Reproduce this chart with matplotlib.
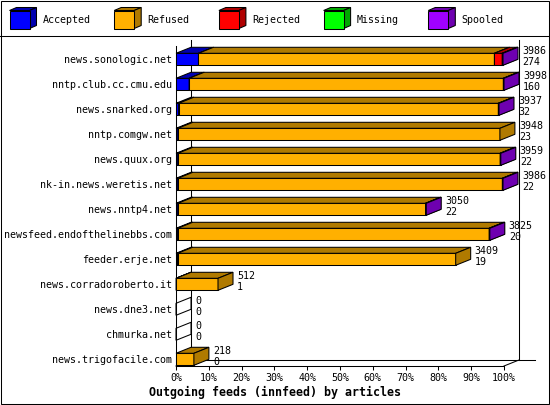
import matplotlib
matplotlib.use('Agg')
import matplotlib.pyplot as plt
from matplotlib.patches import Polygon, Rectangle
from matplotlib.lines import Line2D

# data
hosts = ['news.sonologic.net', 'nntp.club.cc.cmu.edu', 'news.snarked.org',
         'nntp.comgw.net', 'news.quux.org', 'nk-in.news.weretis.net',
         'news.nntp4.net', 'newsfeed.endofthelinebbs.com', 'feeder.erje.net',
         'news.corradoroberto.it', 'news.dne3.net', 'chmurka.net',
         'news.trigofacile.com']
offered = [3986, 3998, 3937, 3948, 3959, 3986, 3050, 3825, 3409, 512, 0, 0, 218]
accepted = [274, 160, 32, 23, 22, 22, 22, 20, 19, 1, 0, 0, 0]
refused = [3607, 3830, 3897, 3925, 3929, 3956, 3020, 3797, 3390, 511, 0, 0, 218]
rejected = [95, 0, 0, 0, 0, 0, 0, 0, 0, 0, 0, 0, 0]
missing = [0, 0, 0, 0, 0, 0, 0, 0, 0, 0, 0, 0, 0]
spooled = [10, 8, 8, 0, 8, 8, 8, 8, 0, 0, 0, 0, 0]

series_names = ['Accepted', 'Refused', 'Rejected', 'Missing', 'Spooled']
series = [accepted, refused, rejected, missing, spooled]
colors = ['#0000ff', '#ffb000', '#ff0000', '#00ff00', '#a000ff']
dark = ['#0000b0', '#b07a00', '#b00000', '#00a800', '#6e00b0']
ticks = list(range(0, 101, 10))

W, H = 550, 405
mono = 'DejaVu Sans Mono'
fs = 7.2
lw = 0.75

fig = plt.figure(figsize=(W / 100, H / 100), dpi=100)
fig.patch.set_facecolor('white')

# main plot area (front plane), pixel layout of the original
left, right, top, bottom = 176, 504, 46, 366
ax = fig.add_axes([left / W, 1 - bottom / H, (right - left) / W, (bottom - top) / H])
xpx = (right - left) / 100.0      # pixels per percent
ypx = 25.0                         # pixels per row
row0 = 59.3                        # pixel centre of first row
ax.set_xlim(0, 100)
ax.set_ylim((bottom - row0) / ypx, (top - row0) / ypx)
ax.patch.set_alpha(0)

dx = 15 / xpx      # 3d depth
dy = -6 / ypx
hh = 6 / ypx       # half bar height

ymin, ymax = ax.get_ylim()
for s in ['top', 'right']:
    ax.spines[s].set_visible(False)
for s in ['left', 'bottom']:
    ax.spines[s].set_linewidth(lw)

# back walls / floor
wall = dict(color='black', lw=lw, clip_on=False, zorder=1)
ax.add_line(Line2D([dx, dx], [ymin + dy, ymax + dy], **wall))
ax.add_line(Line2D([100 + dx, 100 + dx], [ymin + dy, ymax + dy], **wall))
ax.add_line(Line2D([dx, 100 + dx + 16 / xpx], [ymin + dy, ymin + dy], **wall))
ax.add_line(Line2D([0, dx], [ymin, ymin + dy], **wall))
ax.add_line(Line2D([100, 100 + dx], [ymin, ymin + dy], **wall))

maxval = max(offered)


def box(x0, x1, yc, face, side, z):
    t, b = yc - hh, yc + hh
    kw = dict(edgecolor='black', lw=lw, clip_on=False, zorder=z, joinstyle='miter')
    ax.add_patch(Polygon([(x0, t), (x1, t), (x1, b), (x0, b)], facecolor=face, **kw))
    ax.add_patch(Polygon([(x0, t), (x1, t), (x1 + dx, t + dy), (x0 + dx, t + dy)],
                         facecolor=side, **kw))
    ax.add_patch(Polygon([(x1, t), (x1 + dx, t + dy), (x1 + dx, b + dy), (x1, b)],
                         facecolor=side, **kw))


for i in range(len(hosts)):
    x = 0.0
    z = 3
    for k, vals in enumerate(series):
        v = vals[i] / maxval * 100
        if v > 0:
            box(x, x + v, i, colors[k], dark[k], z)
            x += v
            z += 1
    if offered[i] == 0:
        t, b = i - hh, i + hh
        ax.add_patch(Polygon([(0, t), (dx, t + dy), (dx, b + dy), (0, b)], fill=False,
                             edgecolor='black', lw=lw, clip_on=False, zorder=3))
    tx = offered[i] / maxval * 100 + dx + 4 / xpx
    ax.text(tx, i - 0.33, str(offered[i]), fontsize=fs, family=mono, va='center',
            ha='left', zorder=10)
    ax.text(tx, i + 0.1, str(accepted[i]), fontsize=fs, family=mono, va='center',
            ha='left', zorder=10)

ax.set_yticks(range(len(hosts)))
ax.set_yticklabels(hosts, family=mono, fontsize=fs)
ax.tick_params(axis='y', length=0, pad=3)
ax.set_xticks(ticks)
ax.set_xticklabels(['%d%%' % t for t in ticks], family=mono, fontsize=fs)
ax.tick_params(axis='x', length=3, width=lw, pad=2)

fig.text(0.5, 1 - 392 / H, 'Outgoing feeds (innfeed) by articles', ha='center',
         va='center', family=mono, fontweight='bold', fontsize=8.4)

# overlay in pixel units for frame + legend
ov = fig.add_axes([0, 0, 1, 1], zorder=-1)
ov.set_xlim(0, W)
ov.set_ylim(H, 0)
ov.axis('off')
ov.add_patch(Rectangle((0.5, 0.5), W - 1.5, H - 1.5, fill=False, edgecolor='black', lw=lw))
ov.add_line(Line2D([0, W], [35.5, 35.5], color='black', lw=lw))

for k, name in enumerate(series_names):
    x0 = 9.5 + 104.7 * k
    y0, y1 = 10.5, 28.5
    x1 = x0 + 20
    ddx, ddy = 7, -3
    kw = dict(edgecolor='black', lw=lw)
    ov.add_patch(Polygon([(x0, y0), (x1, y0), (x1 + ddx, y0 + ddy), (x0 + ddx, y0 + ddy)],
                         facecolor=dark[k], **kw))
    ov.add_patch(Polygon([(x1, y0), (x1 + ddx, y0 + ddy), (x1 + ddx, y1 + ddy), (x1, y1)],
                         facecolor=dark[k], **kw))
    ov.add_patch(Rectangle((x0, y0), 20, 18, facecolor=colors[k], **kw))
    ov.text(x0 + 33, 20, name, family=mono, fontsize=fs, va='center', ha='left')

fig.savefig('out.png', dpi=100)
